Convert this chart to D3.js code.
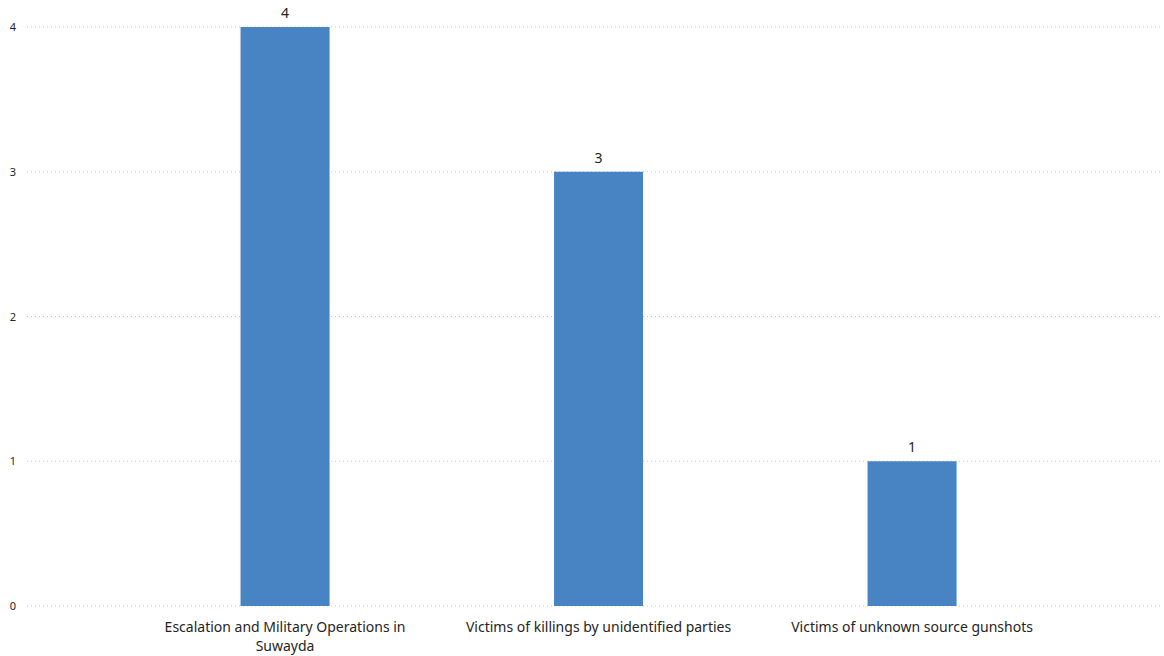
<!DOCTYPE html>
<html>
<head>
<meta charset="utf-8">
<script src="https://cdn.jsdelivr.net/npm/d3@7"></script>
<style>
  html, body { margin: 0; padding: 0; background: #fff; }
  svg { display: block; }
  text { font-family: "Segoe UI", "Noto Sans", "Open Sans", sans-serif; fill: #252423; }
</style>
</head>
<body>
<svg id="chart" width="1164" height="656"></svg>
<script>
const categories = [
  "Escalation and Military Operations in Suwayda",
  "Victims of killings by unidentified parties",
  "Victims of unknown source gunshots"
];
const values = [4, 3, 1];
const yTicks = [0, 1, 2, 3, 4];

const svg = d3.select("#chart");

const x = d3.scaleBand()
  .domain(categories)
  .range([128.3, 1068.8])
  .paddingInner(0.716)
  .paddingOuter(0.358);

const y = d3.scaleLinear().domain([0, 4]).range([606, 27]);

// gridlines
svg.append("g").selectAll("line")
  .data(yTicks)
  .join("line")
  .attr("x1", 27).attr("x2", 1160)
  .attr("y1", d => y(d)).attr("y2", d => y(d))
  .attr("stroke", "#c8c8c8")
  .attr("stroke-width", 1)
  .attr("stroke-dasharray", "1,3");

// y axis labels
const yAxis = d3.axisLeft(y).tickValues(yTicks).tickSize(0).tickPadding(0).tickFormat(d3.format("d"));
const gy = svg.append("g").attr("transform", "translate(16,0)").call(yAxis);
gy.select(".domain").remove();
gy.selectAll("text")
  .style("font-family", '"Segoe UI", "Noto Sans", sans-serif')
  .style("font-size", "11px")
  .attr("fill", "#252423");

// bars
svg.append("g").selectAll("rect")
  .data(values)
  .join("rect")
  .attr("x", (d, i) => x(categories[i]))
  .attr("width", x.bandwidth())
  .attr("y", d => y(d))
  .attr("height", d => y(0) - y(d))
  .attr("fill", "#4884c4");

// value labels
svg.append("g").selectAll("text")
  .data(values)
  .join("text")
  .attr("x", (d, i) => x(categories[i]) + x.bandwidth() / 2)
  .attr("y", d => y(d) - 9)
  .attr("text-anchor", "middle")
  .style("font-size", "14px")
  .text(d => d);

// x axis labels with wrapping
const xAxis = d3.axisBottom(x).tickSize(0).tickPadding(0);
const gx = svg.append("g").attr("transform", "translate(0,606)").call(xAxis);
gx.select(".domain").remove();
gx.selectAll("text")
  .style("font-family", '"Segoe UI", "Noto Sans", sans-serif')
  .style("font-size", "14px")
  .attr("fill", "#252423")
  .attr("dy", null)
  .attr("y", 0)
  .each(function(d) {
    const t = d3.select(this);
    const words = d.split(/\s+/);
    t.text(null);
    const maxW = 290;
    let line = [];
    let lineNo = 0;
    let tspan = t.append("tspan").attr("x", 0).attr("y", 26);
    for (const w of words) {
      line.push(w);
      tspan.text(line.join(" "));
      if (tspan.node().getComputedTextLength() > maxW && line.length > 1) {
        line.pop();
        tspan.text(line.join(" "));
        line = [w];
        lineNo++;
        tspan = t.append("tspan").attr("x", 0).attr("y", 26 + lineNo * 19).text(w);
      }
    }
  });
</script>
</body>
</html>
